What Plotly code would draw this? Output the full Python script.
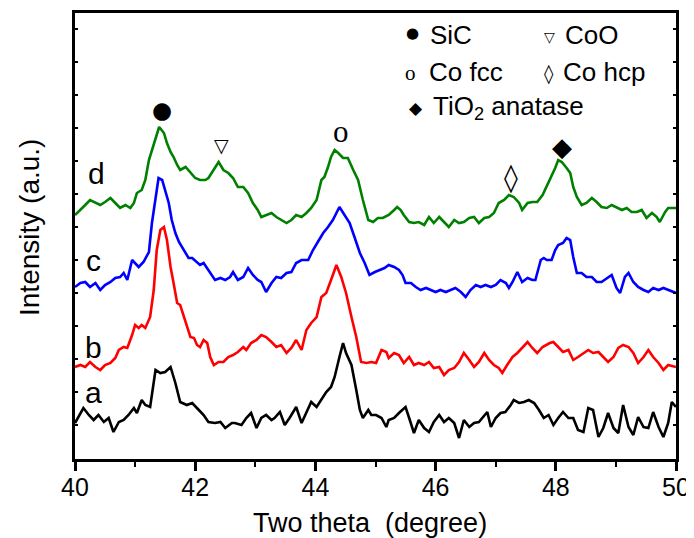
import plotly.graph_objects as go

# XRD patterns (x: two theta in degree, y: intensity in a.u., curves already offset)
curve_a = [(40.00,35),(40.14,50),(40.23,43),(40.31,38),(40.39,43),(40.48,36),(40.56,40),(40.64,26),(40.73,36),(40.81,38),
           (40.89,43),(40.98,50),(41.03,45),(41.11,58),(41.17,53),(41.25,51),(41.34,88),(41.42,85),(41.50,86),(41.59,91),
           (41.67,75),(41.75,56),(41.86,53),(41.95,55),(42.06,48),(42.14,43),(42.22,36),(42.33,35),(42.42,36),(42.50,30),
           (42.61,35),(42.66,35),(42.77,33),(42.85,40),(42.93,45),(43.02,30),(43.10,40),(43.18,43),(43.27,38),(43.32,40),
           (43.41,46),(43.49,33),(43.57,40),(43.68,51),(43.77,35),(43.85,45),(43.93,56),(44.02,51),(44.10,58),(44.18,66),
           (44.26,71),(44.32,81),(44.40,101),(44.46,115),(44.51,105),(44.60,93),(44.68,68),(44.74,48),(44.79,40),(44.88,48),
           (44.93,43),(45.01,43),(45.10,40),(45.18,31),(45.22,38),(45.31,40),(45.39,45),(45.50,51),(45.56,40),(45.64,25),
           (45.72,38),(45.81,30),(45.89,26),(45.97,36),(46.06,43),(46.14,36),(46.22,40),(46.31,35),(46.39,20),(46.47,38),
           (46.56,31),(46.64,35),(46.72,36),(46.81,43),(46.86,46),(46.92,31),(47.00,40),(47.08,45),(47.16,46),(47.25,53),
           (47.30,58),(47.39,55),(47.47,56),(47.55,58),(47.64,55),(47.72,48),(47.80,40),(47.88,43),(47.96,33),(48.04,40),
           (48.12,46),(48.21,40),(48.29,40),(48.37,28),(48.46,26),(48.54,50),(48.62,48),(48.71,21),(48.79,30),(48.87,45),
           (48.96,30),(49.04,25),(49.12,53),(49.21,31),(49.29,23),(49.37,41),(49.46,31),(49.54,30),(49.62,46),(49.71,31),
           (49.79,21),(49.87,35),(49.93,56),(50.00,51)]

curve_b = [(40.00,91),(40.09,93),(40.17,91),(40.25,96),(40.34,91),(40.42,88),(40.50,93),(40.59,95),(40.67,100),(40.73,108),
           (40.81,111),(40.87,110),(40.95,123),(41.00,133),(41.06,130),(41.11,133),(41.17,130),(41.25,141),(41.31,168),(41.36,208),
           (41.42,228),(41.48,231),(41.53,218),(41.59,191),(41.64,175),(41.70,155),(41.75,153),(41.81,141),(41.86,131),(41.92,121),
           (41.98,120),(42.03,113),(42.08,111),(42.14,118),(42.20,115),(42.25,101),(42.31,93),(42.39,96),(42.47,96),(42.55,101),
           (42.63,103),(42.71,106),(42.80,111),(42.85,108),(42.93,115),(43.02,118),(43.10,123),(43.18,121),(43.27,116),(43.35,111),
           (43.43,113),(43.52,105),(43.60,110),(43.68,118),(43.77,108),(43.85,128),(43.93,135),(44.02,141),(44.10,161),(44.18,165),
           (44.26,178),(44.35,193),(44.43,181),(44.51,165),(44.60,141),(44.68,121),(44.76,96),(44.85,95),(44.93,96),(45.01,95),
           (45.10,108),(45.18,106),(45.22,100),(45.31,105),(45.39,103),(45.47,95),(45.56,101),(45.64,93),(45.72,95),(45.81,93),
           (45.89,96),(45.97,90),(46.06,91),(46.14,83),(46.22,88),(46.31,90),(46.39,96),(46.47,105),(46.56,98),(46.64,91),
           (46.72,96),(46.81,105),(46.89,98),(46.97,93),(47.05,90),(47.11,85),(47.19,93),(47.28,101),(47.36,105),(47.44,110),
           (47.53,116),(47.61,110),(47.69,105),(47.78,111),(47.90,115),(47.96,116),(48.04,111),(48.12,106),(48.21,108),(48.29,98),
           (48.37,101),(48.46,105),(48.54,108),(48.62,105),(48.71,106),(48.79,101),(48.87,96),(48.96,101),(49.04,110),(49.12,113),
           (49.21,111),(49.29,105),(49.37,95),(49.46,101),(49.54,108),(49.62,101),(49.71,95),(49.79,88),(49.87,93),(50.00,91)]

curve_c = [(40.00,171),(40.09,175),(40.17,176),(40.25,171),(40.34,175),(40.42,168),(40.50,173),(40.59,176),(40.67,180),(40.75,181),
           (40.81,185),(40.87,178),(40.95,198),(41.00,195),(41.06,191),(41.14,196),(41.23,206),(41.28,235),(41.34,258),(41.39,280),
           (41.45,278),(41.50,268),(41.56,255),(41.61,238),(41.67,225),(41.73,216),(41.78,211),(41.84,205),(41.89,200),(41.95,200),
           (42.03,196),(42.08,193),(42.14,195),(42.20,190),(42.25,185),(42.33,178),(42.42,180),(42.50,178),(42.58,181),(42.63,186),
           (42.71,178),(42.80,181),(42.88,190),(42.96,183),(43.04,178),(43.10,176),(43.18,166),(43.27,175),(43.35,181),(43.43,180),
           (43.52,185),(43.60,186),(43.68,195),(43.77,198),(43.88,198),(43.96,208),(44.04,216),(44.13,225),(44.21,231),(44.29,238),
           (44.40,251),(44.49,243),(44.57,235),(44.65,221),(44.74,205),(44.82,195),(44.90,183),(44.99,186),(45.07,188),(45.15,190),
           (45.22,193),(45.31,191),(45.39,188),(45.45,183),(45.50,175),(45.59,175),(45.67,171),(45.75,168),(45.84,170),(45.92,168),
           (46.00,166),(46.08,168),(46.17,166),(46.25,168),(46.33,170),(46.42,166),(46.50,161),(46.58,168),(46.67,173),(46.75,171),
           (46.83,173),(46.92,171),(47.00,173),(47.08,178),(47.17,175),(47.22,170),(47.28,176),(47.36,186),(47.44,176),(47.53,180),
           (47.61,178),(47.66,178),(47.75,198),(47.80,200),(47.85,198),(47.93,198),(47.99,208),(48.04,213),(48.12,215),(48.18,220),
           (48.24,218),(48.29,201),(48.35,185),(48.43,185),(48.51,181),(48.60,181),(48.68,176),(48.76,176),(48.85,180),(48.93,183),
           (49.01,170),(49.07,165),(49.15,181),(49.21,185),(49.29,176),(49.37,171),(49.46,168),(49.54,166),(49.62,170),(49.71,168),
           (49.79,170),(49.87,168),(50.00,165)]

curve_d = [(40.00,243),(40.09,248),(40.17,253),(40.25,258),(40.34,255),(40.42,253),(40.50,256),(40.59,260),(40.67,255),(40.75,250),
           (40.84,253),(40.92,250),(40.98,255),(41.03,265),(41.11,268),(41.17,278),(41.23,298),(41.28,308),(41.34,321),(41.40,331),
           (41.48,325),(41.53,315),(41.59,306),(41.64,301),(41.70,293),(41.75,288),(41.84,291),(41.92,285),(42.00,280),(42.08,278),
           (42.17,278),(42.22,280),(42.31,288),(42.39,296),(42.47,288),(42.55,285),(42.63,280),(42.71,271),(42.80,271),(42.88,265),
           (42.96,255),(43.04,248),(43.10,241),(43.18,243),(43.27,245),(43.35,241),(43.43,238),(43.52,235),(43.60,238),(43.68,243),
           (43.77,241),(43.85,245),(43.93,250),(44.02,258),(44.10,278),(44.15,281),(44.21,291),(44.26,301),(44.32,308),(44.38,305),
           (44.46,300),(44.54,300),(44.63,288),(44.71,278),(44.79,258),(44.88,238),(44.96,236),(45.04,240),(45.12,240),
           (45.22,243),(45.31,248),(45.36,251),(45.42,248),(45.47,243),(45.56,236),(45.64,235),(45.72,236),(45.81,233),(45.89,241),
           (45.97,235),(46.06,241),(46.14,236),(46.22,231),(46.31,238),(46.39,235),(46.47,236),(46.56,240),(46.64,241),(46.72,235),
           (46.81,240),(46.89,241),(46.97,245),(47.05,255),(47.14,258),(47.22,263),(47.30,261),(47.39,255),(47.44,248),(47.53,255),
           (47.61,256),(47.69,256),(47.78,263),(47.82,268),(47.90,278),(47.99,290),(48.04,298),(48.10,296),(48.18,290),(48.24,285),
           (48.29,271),(48.35,261),(48.43,253),(48.51,255),(48.60,260),(48.68,256),(48.76,251),(48.85,250),(48.93,253),(49.01,251),
           (49.10,248),(49.18,250),(49.26,246),(49.35,246),(49.43,248),(49.51,240),(49.60,245),(49.68,241),(49.73,236),(49.82,246),
           (49.87,250),(50.00,250)]

series_names = ["a", "b", "c", "d"]
series_colors = ["#000000", "#ff0000", "#0000ff", "#008000"]
x_ticks = [40, 42, 44, 46, 48, 50]

FONT = "Liberation Sans, Arial, sans-serif"
SYM = "DejaVu Sans, sans-serif"

fig = go.Figure()
for name, col, data in zip(series_names, series_colors, [curve_a, curve_b, curve_c, curve_d]):
    xs = [p[0] for p in data]
    ys = [p[1] for p in data]
    fig.add_trace(go.Scatter(x=xs, y=ys, mode="lines", name=name,
                             line=dict(color=col, width=2.6), showlegend=False))

ann = []
# curve labels
label_pos = {"a": (40.30, 66), "b": (40.30, 111), "c": (40.30, 198), "d": (40.35, 285)}
for n in series_names:
    lx, ly = label_pos[n]
    ann.append(dict(x=lx, y=ly, xref="x", yref="y", text=n, showarrow=False,
                    font=dict(family=FONT, size=30, color="black"), xanchor="center", yanchor="middle"))

# peak markers
ann += [
    dict(x=41.45, y=348, text="●", font=dict(family=SYM, size=23)),
    dict(x=42.43, y=313, text="▽", font=dict(family=SYM, size=19)),
    dict(x=44.43, y=327, text="o", font=dict(family="Liberation Serif, serif", size=31)),
    dict(x=47.25, y=281, text="◊", font=dict(family=SYM, size=28)),
    dict(x=48.10, y=311, text="◆", font=dict(family=SYM, size=26)),
]
# legend block
ann += [
    dict(x=45.61, y=425, text="●", font=dict(family=SYM, size=15)),
    dict(x=47.89, y=421, text="▽", font=dict(family=SYM, size=14)),
    dict(x=45.59, y=385, text="o", font=dict(family="Liberation Serif, serif", size=21)),
    dict(x=47.89, y=385, text="◊", font=dict(family=SYM, size=19)),
    dict(x=45.67, y=350, text="◆", font=dict(family=SYM, size=17)),
]
for a in ann:
    a.setdefault("xref", "x"); a.setdefault("yref", "y"); a.setdefault("showarrow", False)
    a.setdefault("xanchor", "center"); a.setdefault("yanchor", "middle")
    a["font"].setdefault("color", "black")

legend_text = [
    (45.87, 423, "SiC"),
    (48.12, 423, "CoO"),
    (45.85, 386, "Co fcc"),
    (48.09, 386, "Co hcp"),
    (45.92, 351, "TiO<sub>2</sub> anatase"),
]
for tx, ty, t in legend_text:
    ann.append(dict(x=tx, y=ty, xref="x", yref="y", text=t, showarrow=False,
                    xanchor="left", yanchor="middle",
                    font=dict(family=FONT, size=26, color="black")))

# axis titles
ann.append(dict(x=(370 - 75) / 601, y=(459 - 523) / 446, xref="paper", yref="paper",
                text="Two theta  (degree)", showarrow=False, xanchor="center", yanchor="middle",
                font=dict(family=FONT, size=27, color="black")))
ann.append(dict(x=(30 - 75) / 601, y=(459 - 228) / 446, xref="paper", yref="paper",
                text="Intensity (a.u.)", showarrow=False, textangle=-90,
                xanchor="center", yanchor="middle",
                font=dict(family=FONT, size=28, color="black")))

# the page puts the figure 8 px from the window's top-left corner
fig.update_layout(
    template="none",
    width=686, height=530,
    margin=dict(l=67, r=18, t=5, b=79, pad=0, autoexpand=False),
    paper_bgcolor="white", plot_bgcolor="white",
    annotations=ann,
    xaxis=dict(range=[40, 50], tickvals=x_ticks, ticktext=[str(v) for v in x_ticks],
               automargin=False, ticklabelstandoff=-5,
               ticks="outside", ticklen=9, tickwidth=2.5, tickcolor="black",
               showline=True, linewidth=3, linecolor="black", mirror=True,
               showgrid=False, zeroline=False,
               tickfont=dict(family=FONT, size=25, color="black"),
               minor=dict(dtick=1, tick0=40, ticks="outside", ticklen=5, tickwidth=2, tickcolor="black",
                          showgrid=False)),
    yaxis=dict(range=[-1, 445], tick0=0, dtick=33, showticklabels=False,
               automargin=False,
               ticks="inside", ticklen=3, tickwidth=1.5, tickcolor="black",
               showline=True, linewidth=3, linecolor="black", mirror="ticks",
               showgrid=False, zeroline=False),
)

fig.write_html("out.html")
